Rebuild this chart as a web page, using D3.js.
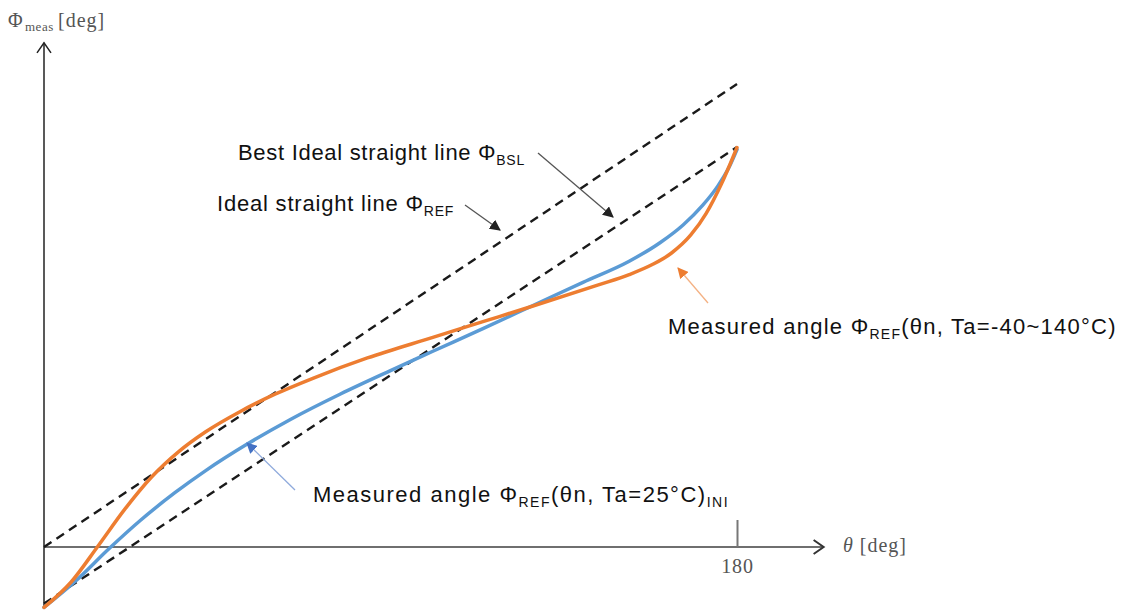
<!DOCTYPE html>
<html>
<head>
<meta charset="utf-8">
<script src="https://cdn.jsdelivr.net/npm/d3@7"></script>
<style>
  body { margin: 0; background: #fff; }
  svg { display: block; }
</style>
</head>
<body>
<div id="container"></div>
<script>
let w = 1125;
let h = 611;

// data (theta, phi) in degrees
let thetaTicks = [180];
let idealLine = [[0, 0], [180, 180]];
let bslLine = [[0, -22], [180, 155.5]];
let measuredIni = [
  [0, -23.5], [8, -13.5], [17, -0.5], [25, 10.3], [34, 21.1], [42, 29.7],
  [53, 40.2], [64, 49.6], [77, 59.5], [90, 68.6], [101, 76.1], [114, 84.9],
  [127, 93.9], [140, 102.9], [152, 111.1], [160, 118.3], [166, 125.2],
  [171, 132.7], [175, 140.3], [178, 147.8], [180, 154.5]
];
let measuredTemp = [
  [0, -23.5], [7, -13.7], [14, 0.3], [21, 14.7], [28, 27.3], [35, 37.1],
  [42, 44.8], [51, 52.7], [60, 59.4], [70, 65.7], [84, 73.5], [101, 81.5],
  [114, 87.6], [127, 93.7], [144, 101.9], [152, 105.9], [158, 109.8],
  [163, 114.3], [168, 121.3], [172, 129.7], [176, 141.3], [180, 155.3]
];

let x = d3.scaleLinear().domain([0, 180]).range([44, 737]);
let y = d3.scaleLinear().domain([0, 180]).range([547, 84]);

let viz = d3.select("#container")
  .append("svg")
    .attr("width", w)
    .attr("height", h);

let defs = viz.append("defs");
function addMarker(id, color) {
  defs.append("marker")
      .attr("id", id)
      .attr("viewBox", "0 0 10 10")
      .attr("refX", 9)
      .attr("refY", 5)
      .attr("markerWidth", 11)
      .attr("markerHeight", 11)
      .attr("markerUnits", "userSpaceOnUse")
      .attr("orient", "auto")
    .append("path")
      .attr("d", "M0,0 L10,5 L0,10 Z")
      .attr("fill", color);
}
addMarker("arrGrey", "#222");
addMarker("arrOrange", "#ED7D31");
addMarker("arrBlue", "#4472C4");

let serif = "'Liberation Serif', 'DejaVu Serif', serif";
let sans = "'Liberation Sans', Arial, sans-serif";

// axes
let axisGroup = viz.append("g").attr("class", "axes");

// x axis line with open arrow
axisGroup.append("line")
    .attr("x1", x(0)).attr("y1", y(0))
    .attr("x2", x(202.5)).attr("y2", y(0))
    .attr("stroke", "#6f6f6f")
    .attr("stroke-width", 2);
axisGroup.append("path")
    .attr("d", "M" + (x(202.5) - 10) + "," + (y(0) - 7) + " L" + x(202.5) + "," + y(0) + " L" + (x(202.5) - 10) + "," + (y(0) + 7))
    .attr("fill", "none")
    .attr("stroke", "#333")
    .attr("stroke-width", 2);

// y axis line with open arrow
axisGroup.append("line")
    .attr("x1", x(0)).attr("y1", y(-24))
    .attr("x2", x(0)).attr("y2", y(196))
    .attr("stroke", "#222")
    .attr("stroke-width", 1.5);
axisGroup.append("path")
    .attr("d", "M" + (x(0) - 7) + "," + (y(196) + 10) + " L" + x(0) + "," + y(196) + " L" + (x(0) + 7) + "," + (y(196) + 10))
    .attr("fill", "none")
    .attr("stroke", "#222")
    .attr("stroke-width", 1.5);

// 180 tick, drawn upwards
let xAxis = d3.axisBottom(x)
    .tickValues(thetaTicks)
    .tickSizeInner(-27)
    .tickSizeOuter(0)
    .tickPadding(12);
let xg = axisGroup.append("g")
    .attr("transform", "translate(0," + y(0) + ")")
    .call(xAxis);
xg.select(".domain").remove();
xg.selectAll(".tick line").attr("stroke", "#777").attr("stroke-width", 2);
xg.selectAll(".tick text")
    .attr("fill", "#555")
    .style("font-family", serif)
    .style("font-size", "20px")
    .style("letter-spacing", "0.8px");

// axis titles
let xTitle = viz.append("text")
    .attr("x", 843)
    .attr("y", 552)
    .attr("fill", "#555")
    .style("font-family", serif)
    .style("font-size", "20px")
    .style("letter-spacing", "1px");
xTitle.append("tspan").style("font-style", "italic").text("θ");
xTitle.append("tspan").text(" [deg]");

let yTitle = viz.append("text")
    .attr("y", 27)
    .attr("fill", "#555")
    .style("font-family", serif)
    .style("font-size", "20px")
    .style("letter-spacing", "1px");
yTitle.append("tspan").attr("x", 8).text("Φ");
yTitle.append("tspan").attr("x", 25).attr("dy", 4).style("font-size", "13px").style("letter-spacing", "0.5px").text("meas");
yTitle.append("tspan").attr("x", 58).attr("dy", -4).text("[deg]");

// dashed reference lines
let straight = d3.line().x(d => x(d[0])).y(d => y(d[1]));
let lineGroup = viz.append("g").attr("class", "lines");
lineGroup.selectAll(".refLine").data([idealLine, bslLine]).enter()
  .append("path")
    .attr("class", "refLine")
    .attr("d", straight)
    .attr("fill", "none")
    .attr("stroke", "#1a1a1a")
    .attr("stroke-width", 2.4)
    .attr("stroke-dasharray", "9,6");

// measured curves
let curve = d3.line().x(d => x(d[0])).y(d => y(d[1])).curve(d3.curveMonotoneX);
lineGroup.append("path")
    .attr("d", curve(measuredIni))
    .attr("fill", "none")
    .attr("stroke", "#5B9BD5")
    .attr("stroke-width", 3.5)
    .attr("stroke-linecap", "round");
lineGroup.append("path")
    .attr("d", curve(measuredTemp))
    .attr("fill", "none")
    .attr("stroke", "#ED7D31")
    .attr("stroke-width", 3.5)
    .attr("stroke-linecap", "round");

// annotations
let notes = viz.append("g").attr("class", "notes");

function label(px, py, spacing, main, sub, rest, sub2) {
  let t = notes.append("text")
      .attr("x", px)
      .attr("y", py)
      .attr("fill", "#111")
      .style("font-family", sans)
      .style("font-size", "22px")
      .style("letter-spacing", spacing + "px");
  t.append("tspan").text(main);
  t.append("tspan").attr("dy", 5).style("font-size", "14px").text(sub);
  if (rest) {
    t.append("tspan").attr("dy", -5).text(rest);
  }
  if (sub2) {
    t.append("tspan").attr("dy", 5).style("font-size", "14px").text(sub2);
  }
  return t;
}

label(238, 160, 0.7, "Best Ideal straight line Φ", "BSL");
label(217, 211, 0.8, "Ideal straight line Φ", "REF");
label(668, 334, 1.25, "Measured angle Φ", "REF", "(θn, Ta=-40~140°C)");
label(313, 502, 1.5, "Measured angle Φ", "REF", "(θn, Ta=25°C)", "INI");

function pointer(x1, y1, x2, y2, color, marker) {
  notes.append("line")
      .attr("x1", x1).attr("y1", y1)
      .attr("x2", x2).attr("y2", y2)
      .attr("stroke", color)
      .attr("stroke-width", 1.3)
      .attr("marker-end", "url(#" + marker + ")");
}
pointer(538, 153, 613, 217, "#555", "arrGrey");
pointer(465, 205, 500, 230, "#555", "arrGrey");
pointer(708, 303, 678, 268, "#F4B183", "arrOrange");
pointer(295, 490, 247, 443, "#8FAADC", "arrBlue");
</script>
</body>
</html>
